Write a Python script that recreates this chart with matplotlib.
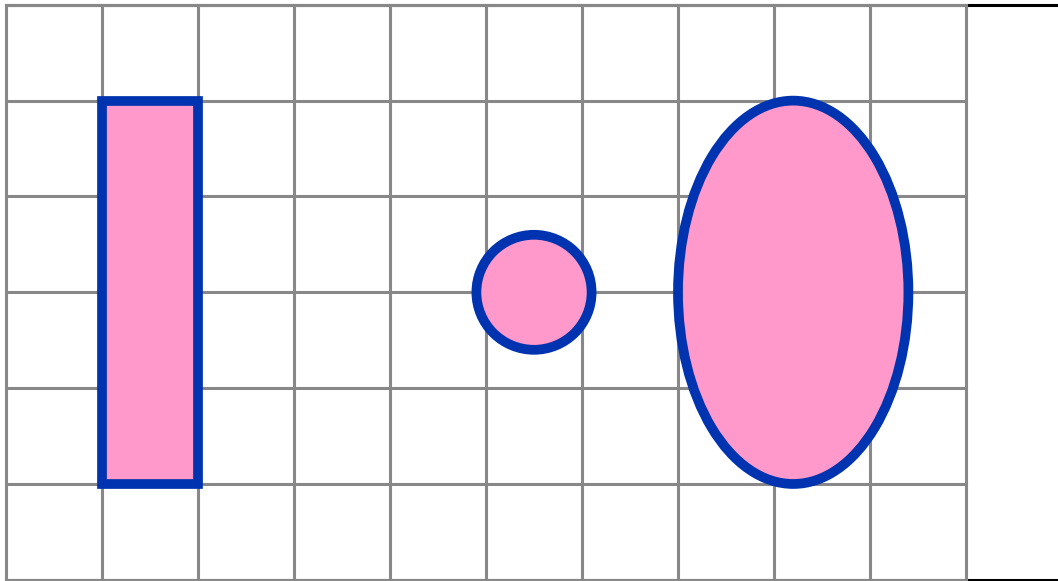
import matplotlib.pyplot as plt
from matplotlib.patches import Rectangle, Circle, Ellipse

# Grid size (cells)
GRID_COLS = 10
GRID_ROWS = 6

# Shapes
rect_xy = (1, 1)
rect_size = (1, 4)
circle_center = (5.5, 3)
circle_radius = 0.6
ellipse_center = (8.2, 3)
ellipse_size = (2.4, 4)

FILL = '#ff99cc'
EDGE = '#0033b0'
GRID = '#888888'

fig = plt.figure(figsize=(10.58, 5.81), dpi=100)
ax = fig.add_axes([6 / 1058, 1.2 / 581, 1056 / 1058, 575 / 581])
ax.set_xlim(0, 11)
ax.set_ylim(0, 6)
ax.set_xticks([])
ax.set_yticks([])
for side in ['top', 'bottom']:
    ax.spines[side].set_linewidth(2.2)
ax.spines['right'].set_visible(False)
ax.spines['left'].set_visible(False)

# grid lines drawn over the spines
for i in range(GRID_COLS + 1):
    ax.plot([i, i], [0, GRID_ROWS], color=GRID, linewidth=2.2, zorder=3, clip_on=False)
for j in range(GRID_ROWS + 1):
    ax.plot([0, GRID_COLS], [j, j], color=GRID, linewidth=2.2, zorder=3, clip_on=False)

ax.add_patch(Rectangle(rect_xy, *rect_size, facecolor=FILL, edgecolor=EDGE, linewidth=7, zorder=4))
ax.add_patch(Circle(circle_center, circle_radius, facecolor=FILL, edgecolor=EDGE, linewidth=7, zorder=4))
ax.add_patch(Ellipse(ellipse_center, *ellipse_size, facecolor=FILL, edgecolor=EDGE, linewidth=7, zorder=4))

fig.savefig('out.png', dpi=100)
